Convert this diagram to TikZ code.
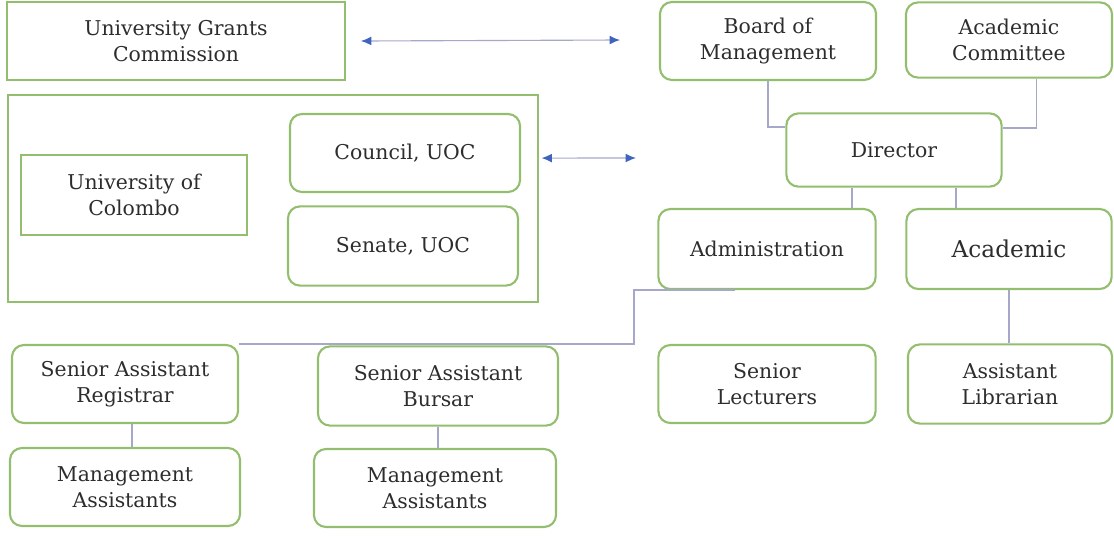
\documentclass[tikz,border=0pt]{standalone}
\usepackage{fontspec}
\setmainfont{DejaVu Serif}
\usetikzlibrary{arrows.meta}
\definecolor{boxgreen}{RGB}{146,190,110}
\definecolor{linkgray}{RGB}{165,168,200}
\definecolor{arrowblue}{RGB}{62,100,190}
\definecolor{textgray}{RGB}{45,45,45}
\begin{document}
\begin{tikzpicture}[
    x=0.025cm, y=-0.025cm,
    every node/.style={align=center, text=textgray, font=\fontsize{14.5}{18.5}\selectfont},
    box/.style={draw=boxgreen, line width=1.5pt, minimum height=1.95cm},
    rbox/.style={box, rounded corners=0.3cm},
    link/.style={draw=linkgray, line width=1pt},
    arrow/.style={draw=linkgray, line width=0.8pt,
        {Latex[length=2.6mm,width=2.2mm,color=arrowblue]}-{Latex[length=2.6mm,width=2.2mm,color=arrowblue]}},
]
    \useasboundingbox (0,0) rectangle (1114,535);

    % left side
    \node[box, minimum width=8.43cm] (ugc) at (176,41) {University Grants\\Commission};
    \node[box, minimum width=13.25cm, minimum height=5.18cm] (uocframe) at (273,198.5) {};
    \node[box, minimum width=5.63cm, minimum height=1.98cm] (uoc) at (134,195) {University of\\Colombo};
    \node[rbox, minimum width=5.75cm] (council) at (405,153) {Council, UOC};
    \node[rbox, minimum width=5.75cm, minimum height=1.98cm] (senate) at (403,246) {Senate, UOC};

    % right side
    \node[rbox, minimum width=5.4cm] (bom) at (768,41) {Board of\\Management};
    \node[rbox, minimum width=5.15cm, minimum height=1.88cm] (acom) at (1009,40) {Academic\\Committee};
    \node[rbox, minimum width=5.38cm, minimum height=1.83cm] (dir) at (894,150) {Director};
    \node[rbox, minimum width=5.43cm, minimum height=2cm] (adm) at (767,249) {Administration};
    \node[rbox, minimum width=5.13cm, minimum height=2cm] (acad) at (1009,249) {\fontsize{16.5}{18.5}\selectfont Academic};

    % staff
    \node[rbox, minimum width=5.65cm] (sar) at (125,384) {Senior Assistant\\Registrar};
    \node[rbox, minimum width=6cm, minimum height=1.98cm] (sab) at (438,386) {Senior Assistant\\Bursar};
    \node[rbox, minimum width=5.43cm] (sl) at (767,384) {Senior\\Lecturers};
    \node[rbox, minimum width=5.1cm, minimum height=1.98cm] (al) at (1010,384) {Assistant\\Librarian};
    \node[rbox, minimum width=5.75cm] (ma1) at (125,487) {Management\\Assistants};
    \node[rbox, minimum width=6.05cm] (ma2) at (435,488) {Management\\Assistants};

    % arrows
    \coordinate (ugcend) at (620,40);
    \coordinate (uocend) at (636,158);
    \draw[arrow] ([xshift=0.38cm]ugc.east) -- (ugcend);
    \draw[arrow] ([xshift=0.06cm, yshift=1.01cm]uocframe.east) -- (uocend);

    % connectors
    \draw[link] (bom.south) |- ([yshift=0.58cm]dir.west);
    \draw[link] ([xshift=0.68cm]acom.south) |- ([yshift=0.55cm]dir.east);
    \coordinate (d1) at ([xshift=-1.05cm]dir.south);
    \coordinate (d2) at ([xshift=1.55cm]dir.south);
    \draw[link] (d1) -- (d1 |- adm.north);
    \draw[link] (d2) -- (d2 |- acad.north);
    \draw[link] ([xshift=-0.8cm]adm.south) -- ++(-101,0) |- (sar.north east);
    \draw[link] (acad.south) -- (acad.south |- al.north);
    \draw[link] ([xshift=0.18cm]sar.south) -- ([xshift=0.18cm]sar.south |- ma1.north);
    \draw[link] (sab.south) -- (sab.south |- ma2.north);
\end{tikzpicture}
\end{document}
